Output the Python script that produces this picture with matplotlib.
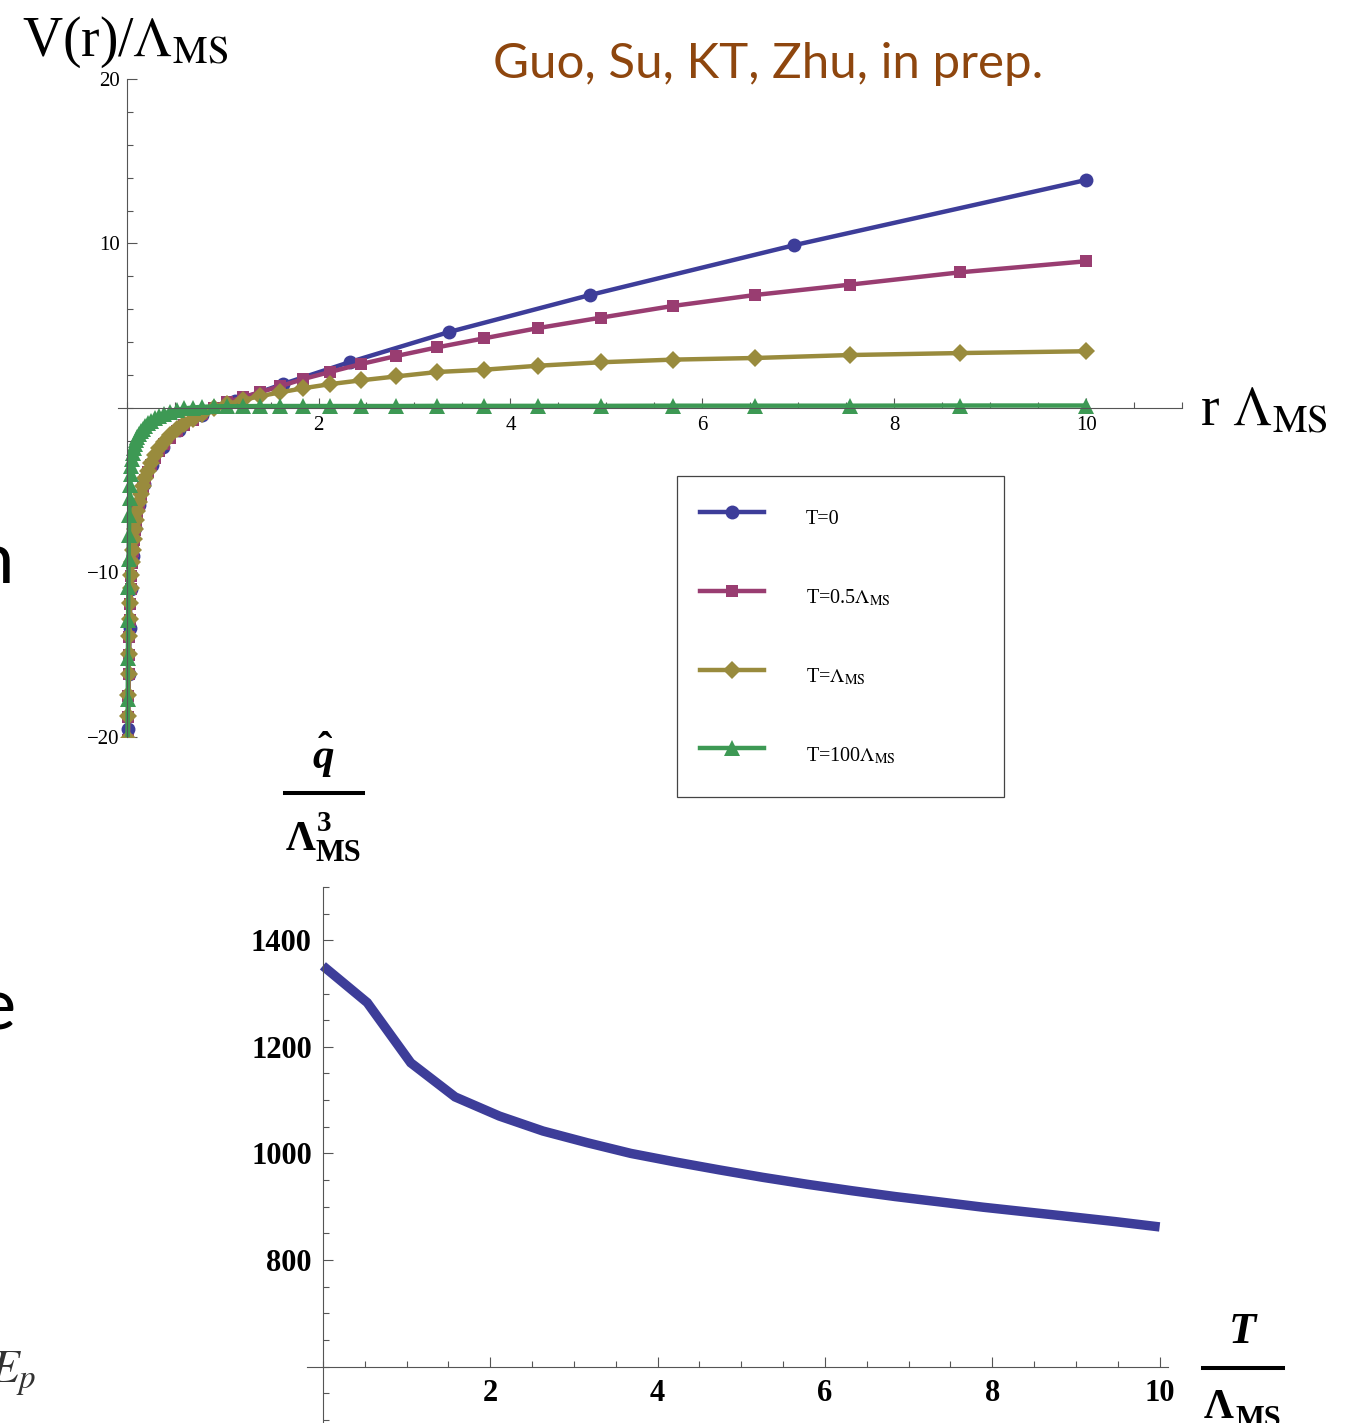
import matplotlib
matplotlib.use("Agg")
import matplotlib.pyplot as plt
from matplotlib.ticker import MultipleLocator
from matplotlib.lines import Line2D

W, H = 1345, 1423

# ── data: V(r)/Lambda, upper panel ───────────────────────────────
r_t0 = [10.0, 6.96, 4.83, 3.36, 2.33, 1.63, 1.13, 0.79, 0.55, 0.38,
        0.265, 0.185, 0.128, 0.089, 0.062, 0.043, 0.030, 0.021, 0.0145, 0.0101]
v_t0 = [13.86, 9.90, 6.87, 4.62, 2.80, 1.46, 0.43, -0.45, -1.35, -2.35,
        -3.45, -4.6, -5.9, -7.3, -9.0, -11.0, -13.4, -16.2, -19.5, -23.5]

r_grid = [10.0, 8.69, 7.54, 6.55, 5.69, 4.94, 4.29, 3.73, 3.24, 2.81,
          2.44, 2.12, 1.84, 1.60, 1.39, 1.21, 1.05, 0.91, 0.79, 0.69,
          0.60, 0.52, 0.45, 0.39, 0.34, 0.295, 0.256, 0.223, 0.193, 0.168,
          0.146, 0.127, 0.110, 0.096, 0.083, 0.072, 0.063, 0.055, 0.047, 0.041,
          0.036, 0.031, 0.027, 0.0235, 0.020, 0.0178, 0.0155, 0.0134, 0.0117, 0.0101]
v_t05 = [8.92, 8.25, 7.50, 6.87, 6.20, 5.49, 4.86, 4.24, 3.69, 3.16,
         2.67, 2.19, 1.76, 1.32, 0.96, 0.66, 0.36, 0.0, -0.36, -0.70,
         -1.05, -1.42, -1.80, -2.20, -2.60, -3.02, -3.46, -3.92, -4.38, -4.85,
         -5.33, -5.82, -6.33, -6.86, -7.42, -8.02, -8.68, -9.40, -10.2, -11.0,
         -11.9, -12.9, -13.9, -15.0, -16.2, -17.5, -18.8, -20.2, -21.7, -23.3]
v_t1 = [3.45, 3.34, 3.22, 3.04, 2.94, 2.78, 2.57, 2.33, 2.19, 1.92,
        1.68, 1.45, 1.20, 0.95, 0.72, 0.48, 0.24, -0.03, -0.35, -0.65,
        -0.97, -1.30, -1.66, -2.05, -2.45, -2.88, -3.33, -3.80, -4.27, -4.75,
        -5.24, -5.74, -6.26, -6.80, -7.37, -7.97, -8.63, -9.35, -10.15, -10.95,
        -11.85, -12.85, -13.85, -14.95, -16.15, -17.45, -18.75, -20.15, -21.65, -23.25]
v_t100 = [0.15, 0.15, 0.14, 0.14, 0.14, 0.13, 0.13, 0.13, 0.13, 0.12,
          0.12, 0.12, 0.12, 0.12, 0.12, 0.11, 0.11, 0.10, 0.07, 0.03,
          -0.03, -0.12, -0.22, -0.35, -0.48, -0.62, -0.78, -0.94, -1.10, -1.26,
          -1.42, -1.58, -1.75, -1.95, -2.17, -2.42, -2.72, -3.07, -3.5, -4.0,
          -4.7, -5.5, -6.5, -7.7, -9.2, -10.9, -12.9, -15.2, -17.7, -20.5]

# ── data: qhat/Lambda^3 vs T/Lambda, lower panel ─────────────────
T_vals = [0.0, 0.53, 1.05, 1.58, 2.11, 2.63, 3.16, 3.68, 4.21, 4.74,
          5.26, 5.79, 6.32, 6.84, 7.37, 7.89, 8.42, 8.95, 9.47, 10.0]
qhat_vals = [1352, 1283, 1170, 1106, 1070, 1042, 1020, 1000, 984, 969,
             955, 942, 930, 919, 909, 899, 890, 881, 872, 862]

C_BLUE, C_PINK, C_GOLD, C_GREEN = "#3D3D99", "#993D71", "#998B3D", "#3D9954"
AXC = "#555555"

plt.rcParams["font.family"] = ["Liberation Serif", "DejaVu Serif"]
plt.rcParams["mathtext.fontset"] = "stix"

fig = plt.figure(figsize=(W / 100, H / 100), dpi=100)


def fx(x):
    return x / W


def fy(y):
    return 1 - y / H


# ── upper panel ─────────────────────────────────────────────────
ax = fig.add_axes([fx(118), fy(737), (1182 - 118) / W, (737 - 79) / H])
ax.set_xlim(-0.09, 11.0)
ax.set_ylim(-20, 20)
for s in ["top", "right"]:
    ax.spines[s].set_visible(False)
for s in ["left", "bottom"]:
    ax.spines[s].set_position(("data", 0))
    ax.spines[s].set_color(AXC)
    ax.spines[s].set_linewidth(0.8)

lw, ms = 3.2, 10
h1, = ax.plot(r_t0, v_t0, color=C_BLUE, lw=lw, marker="o", ms=ms, mew=0)
h2, = ax.plot(r_grid, v_t05, color=C_PINK, lw=lw, marker="s", ms=ms - 1, mew=0)
h3, = ax.plot(r_grid, v_t1, color=C_GOLD, lw=lw, marker="D", ms=ms - 1, mew=0)
h4, = ax.plot(r_grid, v_t100, color=C_GREEN, lw=lw, marker="^", ms=ms + 1, mew=0)

ax.set_xticks([2, 4, 6, 8, 10])
ax.xaxis.set_minor_locator(MultipleLocator(0.5))
ax.set_yticks([-20, -10, 10, 20])
ax.yaxis.set_minor_locator(MultipleLocator(2))
ax.tick_params(which="major", direction="in", length=7, width=0.8, color=AXC, labelsize=15)
ax.tick_params(which="minor", direction="in", length=4, width=0.8, color=AXC)
ax.tick_params(axis="x", which="major", pad=6)
ax.tick_params(axis="y", which="major", pad=5)

fig.text(fx(22), fy(56), r"V(r)/$\Lambda_{\mathrm{MS}}$", fontsize=40,
         ha="left", va="baseline")
fig.text(fx(1200), fy(425), r"r $\Lambda_{\mathrm{MS}}$", fontsize=40,
         ha="left", va="baseline")
fig.text(fx(768), fy(78), "Guo, Su, KT, Zhu, in prep.", fontsize=35.5,
         family="Lato", color="#8E460E", ha="center", va="baseline")

leg = fig.legend([h1, h2, h3, h4],
                 ["T=0", r"T=0.5$\Lambda_{\mathrm{MS}}$",
                  r"T=$\Lambda_{\mathrm{MS}}$", r"T=100$\Lambda_{\mathrm{MS}}$"],
                 loc="upper left", mode="expand",
                 bbox_to_anchor=(fx(677), fy(803), 327 / W, 327 / H),
                 borderaxespad=0, fontsize=14.5, borderpad=1.15,
                 handleheight=2.5, handlelength=3.15, handletextpad=2.1,
                 labelspacing=2.05, numpoints=1, fancybox=False,
                 edgecolor="#444444", framealpha=1)
leg.get_frame().set_linewidth(0.9)
leg.set_zorder(10)

# ── lower panel ─────────────────────────────────────────────────
bx = fig.add_axes([fx(307), 0, (1168 - 307) / W, (H - 887) / H])
bx.set_xlim(-0.19, 10.1)
bx.set_ylim(494, 1500)
for s in ["top", "right"]:
    bx.spines[s].set_visible(False)
bx.spines["left"].set_position(("data", 0))
bx.spines["bottom"].set_position(("data", 600))
for s in ["left", "bottom"]:
    bx.spines[s].set_color(AXC)
    bx.spines[s].set_linewidth(0.8)

bx.plot(T_vals, qhat_vals, color=C_BLUE, lw=6.8, solid_joinstyle="miter",
        solid_capstyle="butt")

bx.set_xticks([2, 4, 6, 8, 10])
bx.xaxis.set_minor_locator(MultipleLocator(0.5))
bx.set_yticks([800, 1000, 1200, 1400])
bx.yaxis.set_minor_locator(MultipleLocator(50))
bx.tick_params(which="major", direction="in", length=7, width=0.8, color=AXC, labelsize=22)
bx.tick_params(which="minor", direction="in", length=4, width=0.8, color=AXC)
bx.tick_params(axis="x", which="major", pad=9)
bx.tick_params(axis="y", which="major", pad=8)
for lab in bx.get_xticklabels() + bx.get_yticklabels():
    lab.set_fontweight("bold")

# y label: qhat / Lambda^3_MS
fig.text(fx(323), fy(768), "q", fontsize=31, fontweight="bold", fontstyle="italic",
         ha="center", va="baseline")
fig.text(fx(325), fy(761), "\u02c6", fontsize=31, fontweight="bold",
         ha="center", va="baseline")
fig.add_artist(Line2D([fx(285), fx(363)], [fy(793), fy(793)], color="black",
                      lw=2.9, transform=fig.transFigure))
fig.text(fx(286), fy(850), "\u039b", fontsize=30, fontweight="bold",
         ha="left", va="baseline")
fig.text(fx(317), fy(831), "3", fontsize=21, fontweight="bold",
         ha="left", va="baseline")
fig.text(fx(315), fy(861), "MS", fontsize=22, fontweight="bold",
         ha="left", va="baseline")

# x label: T / Lambda_MS
fig.text(fx(1242), fy(1343), "T", fontsize=32, fontweight="bold", fontstyle="italic",
         ha="center", va="baseline")
fig.add_artist(Line2D([fx(1203), fx(1283)], [fy(1368), fy(1368)], color="black",
                      lw=2.9, transform=fig.transFigure))
fig.text(fx(1204), fy(1418), "\u039b", fontsize=30, fontweight="bold",
         ha="left", va="baseline")
fig.text(fx(1235), fy(1427), "MS", fontsize=22, fontweight="bold",
         ha="left", va="baseline")

# fragments of the slide text cut at the left edge
fig.text(fx(14), fy(583), "n", fontsize=52, family="Lato", ha="right", va="baseline")
fig.text(fx(16), fy(1030), "e", fontsize=52, family="Lato", ha="right", va="baseline")
fig.text(fx(36), fy(1383), r"$E_p$", fontsize=34, ha="right", va="baseline",
         color="#333333")

fig.savefig("out.png", dpi=100)
